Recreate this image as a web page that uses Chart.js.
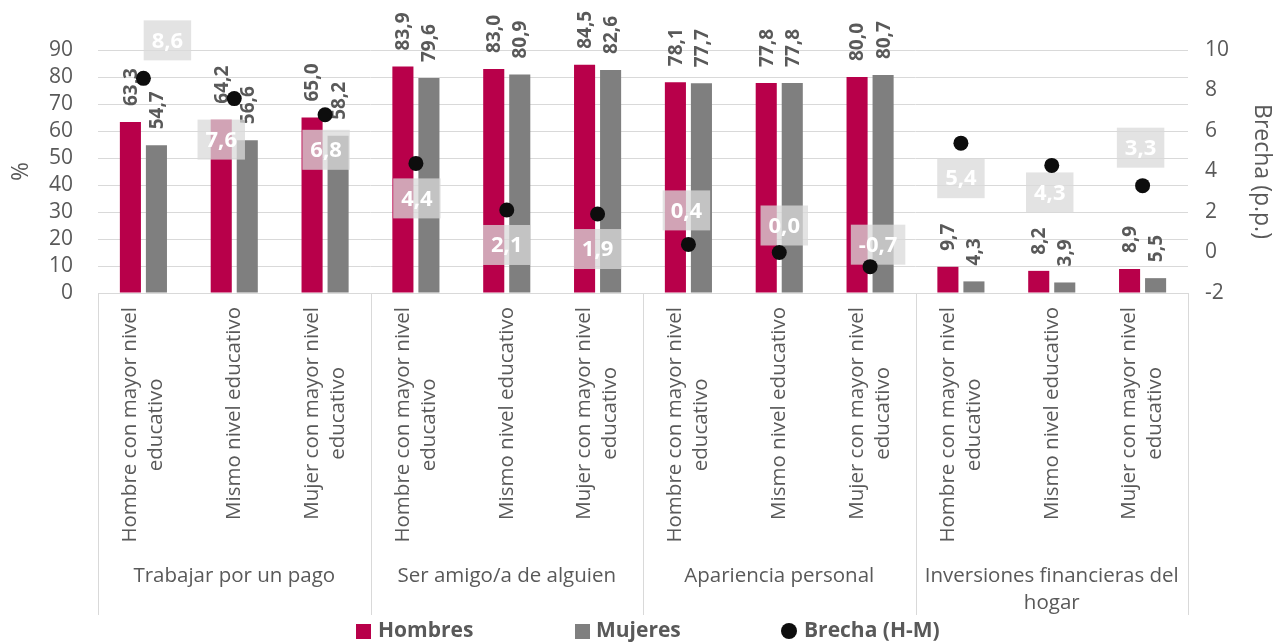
<!DOCTYPE html>
<html lang="es">
<head>
<meta charset="UTF-8">
<title>Brecha H-M</title>
<script src="https://cdn.jsdelivr.net/npm/chart.js"></script>
<style>
  body { margin: 0; background: #fff; }
  canvas { display: block; }
</style>
</head>
<body>
<canvas id="chart" width="1275" height="642"></canvas>
<script>
const categories = [
  ['Hombre con mayor nivel', 'educativo'], ['Mismo nivel educativo'], ['Mujer con mayor nivel', 'educativo'],
  ['Hombre con mayor nivel', 'educativo'], ['Mismo nivel educativo'], ['Mujer con mayor nivel', 'educativo'],
  ['Hombre con mayor nivel', 'educativo'], ['Mismo nivel educativo'], ['Mujer con mayor nivel', 'educativo'],
  ['Hombre con mayor nivel', 'educativo'], ['Mismo nivel educativo'], ['Mujer con mayor nivel', 'educativo']
];
const groups = [['Trabajar por un pago'], ['Ser amigo/a de alguien'], ['Apariencia personal'], ['Inversiones financieras del', 'hogar']];
const hombres = [63.3, 64.2, 65.0, 83.9, 83.0, 84.5, 78.1, 77.8, 80.0, 9.7, 8.2, 8.9];
const mujeres = [54.7, 56.6, 58.2, 79.6, 80.9, 82.6, 77.7, 77.8, 80.7, 4.3, 3.9, 5.5];
const brecha = [8.6, 7.6, 6.8, 4.4, 2.1, 1.9, 0.4, 0.0, -0.7, 5.4, 4.3, 3.3];

// where each brecha label box sits relative to its point (px)
const brechaLabelOffsets = [[24, -38], [-13, 41], [1, 35], [1, 35], [0, 35], [0, 35],
  [-2, -34], [5, -27], [8, -22], [0, 35], [-2, 27], [-2, -38]];

const RED = '#B8004A';
const GREY = '#7F7F7F';
const TEXT = '#595959';
const FONT = "'Open Sans', sans-serif";

const fmt = v => v.toFixed(1).replace('.', ',');

const extras = {
  id: 'extras',
  beforeDatasetDraw(chart, args) {
    if (args.index !== 2) return;
    const ctx = chart.ctx;
    ctx.save();
    // bar value labels
    ctx.fillStyle = TEXT;
    ctx.font = 'bold 19px ' + FONT;
    ctx.textAlign = 'left';
    ctx.textBaseline = 'middle';
    [0, 1].forEach(di => {
      const vals = chart.data.datasets[di].data;
      chart.getDatasetMeta(di).data.forEach((bar, i) => {
        ctx.save();
        ctx.translate(bar.x + 1, bar.y - 16);
        ctx.rotate(-Math.PI / 2);
        ctx.fillText(fmt(vals[i]), 0, 0);
        ctx.restore();
      });
    });
    // brecha label boxes
    ctx.font = 'bold 22px ' + FONT;
    ctx.textAlign = 'center';
    chart.getDatasetMeta(2).data.forEach((pt, i) => {
      const t = fmt(brecha[i]);
      const w = ctx.measureText(t).width + 16;
      const h = 40;
      const cx = pt.x + brechaLabelOffsets[i][0];
      const cy = pt.y + brechaLabelOffsets[i][1];
      ctx.fillStyle = 'rgba(217,217,217,0.75)';
      ctx.fillRect(cx - w / 2, cy - h / 2, w, h);
      ctx.fillStyle = '#fff';
      ctx.fillText(t, cx, cy + 1);
    });
    ctx.restore();
  },
  afterDraw(chart) {
    const ctx = chart.ctx;
    const area = chart.chartArea;
    const xs = chart.scales.x;
    const catW = (area.right - area.left) / categories.length;
    ctx.save();
    // category labels, rotated
    ctx.fillStyle = TEXT;
    ctx.font = '20.5px ' + FONT;
    ctx.textAlign = 'center';
    ctx.textBaseline = 'middle';
    categories.forEach((lines, i) => {
      const x = xs.getPixelForValue(i);
      const blockW = Math.max(...lines.map(l => ctx.measureText(l).width));
      ctx.save();
      ctx.translate(x, area.bottom + 14);
      ctx.rotate(-Math.PI / 2);
      lines.forEach((l, k) => {
        ctx.fillText(l, -blockW / 2, (k - (lines.length - 1) / 2) * 26);
      });
      ctx.restore();
    });
    // group labels
    groups.forEach((lines, g) => {
      const x = (xs.getPixelForValue(g * 3) + xs.getPixelForValue(g * 3 + 2)) / 2;
      lines.forEach((l, k) => ctx.fillText(l, x, 576 + k * 27));
    });
    // separators
    ctx.strokeStyle = '#D9D9D9';
    ctx.lineWidth = 1;
    for (let g = 0; g <= groups.length; g++) {
      const x = Math.round(area.left + g * 3 * catW) + 0.5;
      ctx.beginPath();
      ctx.moveTo(x, area.bottom);
      ctx.lineTo(x, 615);
      ctx.stroke();
    }
    // legend
    const ly = 631;
    ctx.font = 'bold 21px ' + FONT;
    ctx.textAlign = 'left';
    ctx.fillStyle = RED;
    ctx.fillRect(356, ly - 7, 15, 15);
    ctx.fillStyle = GREY;
    ctx.fillRect(575, ly - 7, 15, 15);
    ctx.fillStyle = '#0D0D0D';
    ctx.beginPath();
    ctx.arc(789, ly, 8, 0, Math.PI * 2);
    ctx.fill();
    ctx.fillStyle = TEXT;
    ctx.fillText('Hombres', 378, ly);
    ctx.fillText('Mujeres', 596, ly);
    ctx.fillText('Brecha (H-M)', 804, ly);
    ctx.restore();
  }
};

new Chart(document.getElementById('chart'), {
  type: 'bar',
  data: {
    labels: categories,
    datasets: [
      {
        label: 'Hombres', data: hombres, backgroundColor: RED, yAxisID: 'y', order: 1,
        categoryPercentage: 0.573, barPercentage: 0.81
      },
      {
        label: 'Mujeres', data: mujeres, backgroundColor: GREY, yAxisID: 'y', order: 1,
        categoryPercentage: 0.573, barPercentage: 0.81
      },
      {
        type: 'line', label: 'Brecha (H-M)', data: brecha, yAxisID: 'y1', order: 0,
        showLine: false, pointRadius: 7.5, pointHoverRadius: 7.5,
        pointBackgroundColor: '#0D0D0D', pointBorderWidth: 0
      }
    ]
  },
  options: {
    responsive: false,
    devicePixelRatio: 1,
    animation: false,
    layout: { padding: { top: 50, left: 0, right: 0, bottom: 0 } },
    plugins: { legend: { display: false }, tooltip: { enabled: false } },
    scales: {
      x: {
        grid: { display: false },
        border: { display: true, color: '#D9D9D9' },
        ticks: { display: false },
        afterFit: s => { s.height = 349; }
      },
      y: {
        position: 'left', min: 0, max: 90,
        ticks: { stepSize: 10, autoSkip: false, color: TEXT, font: { size: 21, family: FONT }, padding: 25 },
        grid: { color: '#D9D9D9', drawTicks: false },
        border: { display: false },
        title: { display: true, text: '%', color: TEXT, font: { size: 23, family: FONT }, padding: { top: 8 } },
        afterFit: s => { s.width = 98; }
      },
      y1: {
        position: 'right', min: -2, max: 10,
        ticks: { stepSize: 2, autoSkip: false, color: TEXT, font: { size: 21, family: FONT }, padding: 17 },
        grid: { display: false, drawTicks: false },
        border: { display: false },
        title: { display: true, text: 'Brecha (p.p.)', color: TEXT, font: { size: 23, family: FONT }, padding: { top: 0 } },
        afterFit: s => { s.width = 87; }
      }
    }
  },
  plugins: [extras]
});
</script>
</body>
</html>
